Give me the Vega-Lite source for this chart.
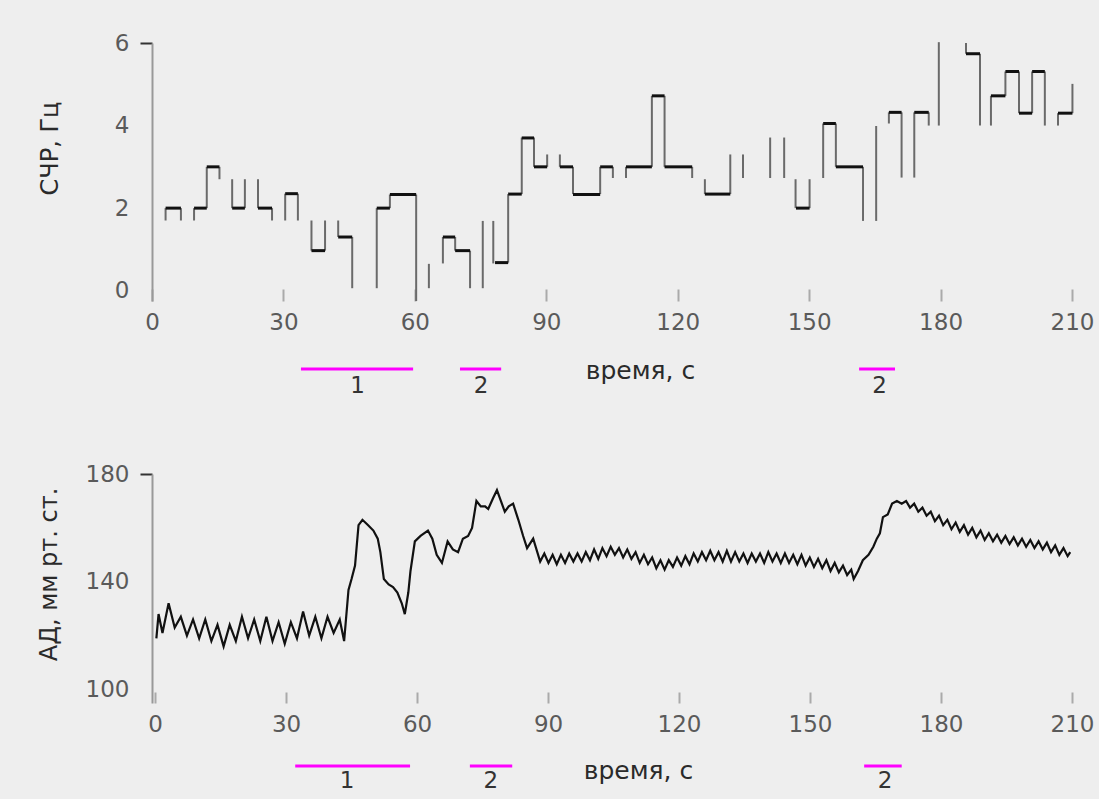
{
  "$schema": "https://vega.github.io/schema/vega-lite/v6.json",
  "background": "#eeeeee",
  "padding": {"left": 37, "top": 32, "right": 5, "bottom": 5},
  "spacing": 65,
  "config": {
    "view": {"stroke": null},
    "font": "DejaVu Sans",
    "axis": {
      "grid": false,
      "labelFont": "DejaVu Sans",
      "titleFont": "DejaVu Sans",
      "labelFontSize": 23,
      "labelColor": "#5a5a5a",
      "titleFontSize": 24,
      "titleFontWeight": "normal",
      "titleColor": "#2a2a2a"
    }
  },
  "datasets": {
    "hr": [
      {"kind": "h", "t": 3.1, "t2": 6.6, "v": 2.0, "v2": 2.0},
      {"kind": "h", "t": 9.6, "t2": 12.5, "v": 2.0, "v2": 2.0},
      {"kind": "h", "t": 12.5, "t2": 15.4, "v": 3.0, "v2": 3.0},
      {"kind": "h", "t": 18.3, "t2": 21.2, "v": 2.0, "v2": 2.0},
      {"kind": "h", "t": 24.2, "t2": 27.4, "v": 2.0, "v2": 2.0},
      {"kind": "h", "t": 30.4, "t2": 33.3, "v": 2.35, "v2": 2.35},
      {"kind": "h", "t": 36.4, "t2": 39.5, "v": 0.97, "v2": 0.97},
      {"kind": "h", "t": 42.5, "t2": 45.7, "v": 1.3, "v2": 1.3},
      {"kind": "h", "t": 51.3, "t2": 54.3, "v": 2.0, "v2": 2.0},
      {"kind": "h", "t": 54.3, "t2": 60.3, "v": 2.33, "v2": 2.33},
      {"kind": "h", "t": 66.4, "t2": 69.2, "v": 1.3, "v2": 1.3},
      {"kind": "h", "t": 69.2, "t2": 72.6, "v": 0.97, "v2": 0.97},
      {"kind": "h", "t": 78.3, "t2": 81.3, "v": 0.68, "v2": 0.68},
      {"kind": "h", "t": 81.3, "t2": 84.4, "v": 2.34, "v2": 2.34},
      {"kind": "h", "t": 84.4, "t2": 87.2, "v": 3.7, "v2": 3.7},
      {"kind": "h", "t": 87.2, "t2": 90.2, "v": 3.0, "v2": 3.0},
      {"kind": "h", "t": 93.1, "t2": 96.1, "v": 3.0, "v2": 3.0},
      {"kind": "h", "t": 96.1, "t2": 102.3, "v": 2.33, "v2": 2.33},
      {"kind": "h", "t": 102.3, "t2": 105.2, "v": 3.0, "v2": 3.0},
      {"kind": "h", "t": 108.2, "t2": 114.1, "v": 3.0, "v2": 3.0},
      {"kind": "h", "t": 114.1, "t2": 117.0, "v": 4.72, "v2": 4.72},
      {"kind": "h", "t": 117.0, "t2": 123.3, "v": 3.0, "v2": 3.0},
      {"kind": "h", "t": 126.2, "t2": 132.0, "v": 2.34, "v2": 2.34},
      {"kind": "h", "t": 147.0, "t2": 150.1, "v": 2.0, "v2": 2.0},
      {"kind": "h", "t": 153.2, "t2": 156.1, "v": 4.05, "v2": 4.05},
      {"kind": "h", "t": 156.1, "t2": 162.3, "v": 3.0, "v2": 3.0},
      {"kind": "h", "t": 168.2, "t2": 171.1, "v": 4.32, "v2": 4.32},
      {"kind": "h", "t": 174.0, "t2": 177.3, "v": 4.32, "v2": 4.32},
      {"kind": "h", "t": 185.8, "t2": 189.0, "v": 5.74, "v2": 5.74},
      {"kind": "h", "t": 191.5, "t2": 194.8, "v": 4.72, "v2": 4.72},
      {"kind": "h", "t": 194.8, "t2": 197.9, "v": 5.31, "v2": 5.31},
      {"kind": "h", "t": 197.9, "t2": 200.9, "v": 4.3, "v2": 4.3},
      {"kind": "h", "t": 200.9, "t2": 203.8, "v": 5.31, "v2": 5.31},
      {"kind": "h", "t": 206.8, "t2": 210.1, "v": 4.3, "v2": 4.3},
      {"kind": "v", "t": 3.1, "t2": 3.1, "v": 2.0, "v2": 1.7},
      {"kind": "v", "t": 6.6, "t2": 6.6, "v": 2.0, "v2": 1.7},
      {"kind": "v", "t": 9.6, "t2": 9.6, "v": 2.0, "v2": 1.7},
      {"kind": "v", "t": 12.5, "t2": 12.5, "v": 2.0, "v2": 3.0},
      {"kind": "v", "t": 15.4, "t2": 15.4, "v": 3.0, "v2": 2.7},
      {"kind": "v", "t": 18.3, "t2": 18.3, "v": 2.7, "v2": 2.0},
      {"kind": "v", "t": 21.2, "t2": 21.2, "v": 2.0, "v2": 2.7},
      {"kind": "v", "t": 24.2, "t2": 24.2, "v": 2.7, "v2": 2.0},
      {"kind": "v", "t": 27.4, "t2": 27.4, "v": 2.0, "v2": 1.7},
      {"kind": "v", "t": 30.4, "t2": 30.4, "v": 1.7, "v2": 2.35},
      {"kind": "v", "t": 33.3, "t2": 33.3, "v": 2.35, "v2": 1.7},
      {"kind": "v", "t": 36.4, "t2": 36.4, "v": 1.7, "v2": 0.97},
      {"kind": "v", "t": 39.5, "t2": 39.5, "v": 0.97, "v2": 1.7},
      {"kind": "v", "t": 42.5, "t2": 42.5, "v": 1.7, "v2": 1.3},
      {"kind": "v", "t": 45.7, "t2": 45.7, "v": 1.3, "v2": 0.06},
      {"kind": "v", "t": 51.3, "t2": 51.3, "v": 0.06, "v2": 2.0},
      {"kind": "v", "t": 54.3, "t2": 54.3, "v": 2.0, "v2": 2.33},
      {"kind": "v", "t": 60.3, "t2": 60.3, "v": 2.33, "v2": -0.25},
      {"kind": "v", "t": 63.2, "t2": 63.2, "v": 0.65, "v2": 0.06},
      {"kind": "v", "t": 66.4, "t2": 66.4, "v": 1.3, "v2": 0.66},
      {"kind": "v", "t": 69.2, "t2": 69.2, "v": 1.3, "v2": 0.97},
      {"kind": "v", "t": 72.6, "t2": 72.6, "v": 0.97, "v2": 0.06},
      {"kind": "v", "t": 75.5, "t2": 75.5, "v": 1.69, "v2": 0.06},
      {"kind": "v", "t": 77.9, "t2": 77.9, "v": 1.69, "v2": 0.66},
      {"kind": "v", "t": 81.3, "t2": 81.3, "v": 0.68, "v2": 2.34},
      {"kind": "v", "t": 84.4, "t2": 84.4, "v": 2.34, "v2": 3.71},
      {"kind": "v", "t": 87.2, "t2": 87.2, "v": 3.71, "v2": 3.0},
      {"kind": "v", "t": 90.2, "t2": 90.2, "v": 3.0, "v2": 3.3},
      {"kind": "v", "t": 93.1, "t2": 93.1, "v": 3.3, "v2": 3.0},
      {"kind": "v", "t": 96.1, "t2": 96.1, "v": 3.0, "v2": 2.34},
      {"kind": "v", "t": 102.3, "t2": 102.3, "v": 2.34, "v2": 3.0},
      {"kind": "v", "t": 105.2, "t2": 105.2, "v": 3.0, "v2": 2.73},
      {"kind": "v", "t": 108.2, "t2": 108.2, "v": 2.73, "v2": 3.0},
      {"kind": "v", "t": 114.1, "t2": 114.1, "v": 3.0, "v2": 4.72},
      {"kind": "v", "t": 117.0, "t2": 117.0, "v": 4.72, "v2": 3.0},
      {"kind": "v", "t": 123.3, "t2": 123.3, "v": 3.0, "v2": 2.73},
      {"kind": "v", "t": 126.2, "t2": 126.2, "v": 2.7, "v2": 2.34},
      {"kind": "v", "t": 132.0, "t2": 132.0, "v": 2.34, "v2": 3.3},
      {"kind": "v", "t": 134.9, "t2": 134.9, "v": 3.3, "v2": 2.73},
      {"kind": "v", "t": 141.1, "t2": 141.1, "v": 3.71, "v2": 2.73},
      {"kind": "v", "t": 144.3, "t2": 144.3, "v": 3.71, "v2": 2.73},
      {"kind": "v", "t": 146.9, "t2": 146.9, "v": 2.7, "v2": 2.0},
      {"kind": "v", "t": 150.1, "t2": 150.1, "v": 2.0, "v2": 2.7},
      {"kind": "v", "t": 153.2, "t2": 153.2, "v": 2.73, "v2": 4.05},
      {"kind": "v", "t": 156.1, "t2": 156.1, "v": 4.05, "v2": 3.0},
      {"kind": "v", "t": 162.3, "t2": 162.3, "v": 3.0, "v2": 1.69},
      {"kind": "v", "t": 165.3, "t2": 165.3, "v": 1.69, "v2": 3.99},
      {"kind": "v", "t": 168.2, "t2": 168.2, "v": 4.32, "v2": 4.05},
      {"kind": "v", "t": 171.1, "t2": 171.1, "v": 4.32, "v2": 2.74},
      {"kind": "v", "t": 174.0, "t2": 174.0, "v": 2.74, "v2": 4.32},
      {"kind": "v", "t": 177.3, "t2": 177.3, "v": 4.32, "v2": 4.0},
      {"kind": "v", "t": 179.6, "t2": 179.6, "v": 6.02, "v2": 4.0},
      {"kind": "v", "t": 185.8, "t2": 185.8, "v": 6.0, "v2": 5.74},
      {"kind": "v", "t": 189.0, "t2": 189.0, "v": 5.74, "v2": 4.0},
      {"kind": "v", "t": 191.5, "t2": 191.5, "v": 4.0, "v2": 4.72},
      {"kind": "v", "t": 194.8, "t2": 194.8, "v": 4.72, "v2": 5.31},
      {"kind": "v", "t": 197.9, "t2": 197.9, "v": 5.31, "v2": 4.3},
      {"kind": "v", "t": 200.9, "t2": 200.9, "v": 4.3, "v2": 5.31},
      {"kind": "v", "t": 203.8, "t2": 203.8, "v": 5.31, "v2": 4.0},
      {"kind": "v", "t": 206.8, "t2": 206.8, "v": 4.0, "v2": 4.3},
      {"kind": "v", "t": 210.1, "t2": 210.1, "v": 4.3, "v2": 5.01}
    ],
    "phaseTop": [
      {"start": 34.0, "end": 59.6, "mid": 46.9, "label": "1"},
      {"start": 70.3, "end": 79.7, "mid": 75.1, "label": "2"},
      {"start": 161.4, "end": 169.6, "mid": 166.1, "label": "2"}
    ],
    "phaseBottom": [
      {"start": 32.1, "end": 58.4, "mid": 44.0, "label": "1"},
      {"start": 72.1, "end": 81.8, "mid": 76.9, "label": "2"},
      {"start": 162.4, "end": 171.0, "mid": 167.2, "label": "2"}
    ],
    "bp": [
      {"t": 0.3, "v": 119}, {"t": 0.8, "v": 128}, {"t": 1.7, "v": 121}, {"t": 3.1, "v": 132},
      {"t": 4.5, "v": 123}, {"t": 5.9, "v": 127}, {"t": 7.3, "v": 120}, {"t": 8.7, "v": 126},
      {"t": 10.1, "v": 119}, {"t": 11.5, "v": 126}, {"t": 12.9, "v": 118}, {"t": 14.3, "v": 124},
      {"t": 15.7, "v": 116}, {"t": 17.1, "v": 124}, {"t": 18.5, "v": 118}, {"t": 19.9, "v": 127},
      {"t": 21.3, "v": 119}, {"t": 22.7, "v": 126}, {"t": 24.1, "v": 118}, {"t": 25.5, "v": 127},
      {"t": 26.9, "v": 118}, {"t": 28.3, "v": 125}, {"t": 29.7, "v": 117}, {"t": 31.1, "v": 125},
      {"t": 32.5, "v": 119}, {"t": 33.9, "v": 129}, {"t": 35.3, "v": 120}, {"t": 36.7, "v": 127},
      {"t": 38.1, "v": 119}, {"t": 39.5, "v": 127}, {"t": 40.9, "v": 121}, {"t": 42.3, "v": 126},
      {"t": 43.3, "v": 118}, {"t": 44.3, "v": 137}, {"t": 45.0, "v": 141}, {"t": 45.8, "v": 146},
      {"t": 46.6, "v": 161}, {"t": 47.5, "v": 163}, {"t": 48.8, "v": 161}, {"t": 50.0, "v": 159},
      {"t": 51.0, "v": 156}, {"t": 51.6, "v": 151}, {"t": 52.4, "v": 141}, {"t": 53.5, "v": 139},
      {"t": 54.5, "v": 138}, {"t": 55.5, "v": 136}, {"t": 56.5, "v": 132}, {"t": 57.2, "v": 128},
      {"t": 58.0, "v": 136}, {"t": 58.5, "v": 144}, {"t": 59.5, "v": 155}, {"t": 60.8, "v": 157},
      {"t": 62.5, "v": 159}, {"t": 63.5, "v": 156}, {"t": 64.5, "v": 150}, {"t": 65.7, "v": 147},
      {"t": 67.0, "v": 155}, {"t": 68.2, "v": 152}, {"t": 69.4, "v": 151}, {"t": 70.5, "v": 156},
      {"t": 71.7, "v": 157}, {"t": 72.6, "v": 160}, {"t": 73.6, "v": 170}, {"t": 74.6, "v": 168},
      {"t": 75.6, "v": 168}, {"t": 76.3, "v": 167}, {"t": 77.4, "v": 171}, {"t": 78.3, "v": 174},
      {"t": 79.2, "v": 170}, {"t": 80.1, "v": 166}, {"t": 81.0, "v": 168}, {"t": 82.0, "v": 169},
      {"t": 83.2, "v": 163}, {"t": 84.3, "v": 157}, {"t": 85.2, "v": 152.5}, {"t": 86.6, "v": 156},
      {"t": 88.2, "v": 147.5}, {"t": 89.15, "v": 150.5}, {"t": 90.1, "v": 147}, {"t": 91.05, "v": 150},
      {"t": 92.0, "v": 146.5}, {"t": 92.95, "v": 150}, {"t": 93.9, "v": 147}, {"t": 94.85, "v": 150.5},
      {"t": 95.8, "v": 147.5}, {"t": 96.75, "v": 150.5}, {"t": 97.7, "v": 147.5}, {"t": 98.65, "v": 151},
      {"t": 99.6, "v": 148}, {"t": 100.55, "v": 152}, {"t": 101.5, "v": 148.5}, {"t": 102.45, "v": 152.5},
      {"t": 103.4, "v": 149.5}, {"t": 104.35, "v": 153}, {"t": 105.3, "v": 150}, {"t": 106.25, "v": 152.5},
      {"t": 107.2, "v": 149}, {"t": 108.15, "v": 152}, {"t": 109.1, "v": 148.5}, {"t": 110.05, "v": 151},
      {"t": 111.0, "v": 147}, {"t": 111.95, "v": 150}, {"t": 112.9, "v": 146.5}, {"t": 113.85, "v": 149},
      {"t": 114.8, "v": 145}, {"t": 115.75, "v": 148}, {"t": 116.7, "v": 144.5}, {"t": 117.65, "v": 148},
      {"t": 118.6, "v": 145.5}, {"t": 119.55, "v": 149}, {"t": 120.5, "v": 146}, {"t": 121.45, "v": 149.5},
      {"t": 122.4, "v": 146.5}, {"t": 123.35, "v": 150.5}, {"t": 124.3, "v": 147.5}, {"t": 125.25, "v": 151},
      {"t": 126.2, "v": 148}, {"t": 127.15, "v": 151.5}, {"t": 128.1, "v": 148}, {"t": 129.05, "v": 151},
      {"t": 130.0, "v": 147.5}, {"t": 130.95, "v": 151.5}, {"t": 131.9, "v": 147.5}, {"t": 132.85, "v": 151},
      {"t": 133.8, "v": 147.5}, {"t": 134.75, "v": 150.5}, {"t": 135.7, "v": 147}, {"t": 136.65, "v": 150.5},
      {"t": 137.6, "v": 147.5}, {"t": 138.55, "v": 150.5}, {"t": 139.5, "v": 147}, {"t": 140.45, "v": 151},
      {"t": 141.4, "v": 147.5}, {"t": 142.35, "v": 150.5}, {"t": 143.3, "v": 147}, {"t": 144.25, "v": 150.5},
      {"t": 145.2, "v": 147}, {"t": 146.15, "v": 150}, {"t": 147.1, "v": 146.5}, {"t": 148.05, "v": 150},
      {"t": 149.0, "v": 146}, {"t": 149.95, "v": 149}, {"t": 150.9, "v": 145.5}, {"t": 151.85, "v": 148.5},
      {"t": 152.8, "v": 145}, {"t": 153.75, "v": 148}, {"t": 154.7, "v": 144}, {"t": 155.65, "v": 147},
      {"t": 156.6, "v": 143.5}, {"t": 157.55, "v": 146}, {"t": 158.5, "v": 142.5}, {"t": 159.45, "v": 144.5},
      {"t": 160.0, "v": 141}, {"t": 161.0, "v": 144}, {"t": 162.1, "v": 148}, {"t": 163.4, "v": 150},
      {"t": 164.5, "v": 153}, {"t": 165.3, "v": 156}, {"t": 166.0, "v": 158}, {"t": 166.7, "v": 164},
      {"t": 167.8, "v": 165}, {"t": 168.8, "v": 169}, {"t": 169.9, "v": 170}, {"t": 171.0, "v": 169},
      {"t": 172.0, "v": 170}, {"t": 172.9, "v": 167.5}, {"t": 173.85, "v": 169}, {"t": 174.8, "v": 166},
      {"t": 175.75, "v": 167.5}, {"t": 176.7, "v": 164.5}, {"t": 177.65, "v": 166}, {"t": 178.6, "v": 162.5},
      {"t": 179.55, "v": 164.5}, {"t": 180.5, "v": 161}, {"t": 181.45, "v": 163}, {"t": 182.4, "v": 159.5},
      {"t": 183.35, "v": 162}, {"t": 184.3, "v": 158.5}, {"t": 185.25, "v": 161}, {"t": 186.2, "v": 157.5},
      {"t": 187.15, "v": 160}, {"t": 188.1, "v": 156.5}, {"t": 189.05, "v": 159}, {"t": 190.0, "v": 155.5},
      {"t": 190.95, "v": 158}, {"t": 191.9, "v": 155}, {"t": 192.85, "v": 157.5}, {"t": 193.8, "v": 154.5},
      {"t": 194.75, "v": 157}, {"t": 195.7, "v": 154}, {"t": 196.65, "v": 156.5}, {"t": 197.6, "v": 153.5},
      {"t": 198.55, "v": 156}, {"t": 199.5, "v": 153}, {"t": 200.45, "v": 155.5}, {"t": 201.4, "v": 152.5},
      {"t": 202.35, "v": 155}, {"t": 203.3, "v": 152}, {"t": 204.25, "v": 154.5}, {"t": 205.2, "v": 151},
      {"t": 206.15, "v": 153.5}, {"t": 207.1, "v": 150}, {"t": 208.05, "v": 152.5}, {"t": 209.0, "v": 149.5},
      {"t": 209.6, "v": 151}
    ]
  },
  "vconcat": [
    {
      "width": 920,
      "height": 258,
      "layer": [
        {
          "data": {"name": "hr"},
          "transform": [{"filter": "datum.kind === 'v'"}],
          "mark": {"type": "rule", "color": "#6a6a6a", "strokeWidth": 2},
          "encoding": {
            "x": {
              "field": "t", "type": "quantitative",
              "scale": {"domain": [0, 210], "nice": false, "zero": false},
              "axis": {
                "values": [0, 30, 60, 90, 120, 150, 180, 210],
                "title": "время, с",
                "domain": false,
                "tickSize": -12,
                "tickColor": "#aaaaaa",
                "tickWidth": 2,
                "labelPadding": 22,
                "titlePadding": 24,
                "titleX": 488,
                "titleFontSize": 25,
                "labelFlush": false
              }
            },
            "x2": {"field": "t2"},
            "y": {
              "field": "v", "type": "quantitative",
              "scale": {"domain": [-0.25, 6], "nice": false, "zero": false},
              "axis": {
                "values": [0, 2, 4, 6],
                "title": "СЧР, Гц",
                "domainColor": "#999999",
                "domainWidth": 2,
                "tickSize": 12,
                "tickColor": "#333333",
                "tickWidth": 2,
                "tickOpacity": {"condition": {"test": "datum.value === 6", "value": 1}, "value": 0},
                "labelPadding": 11,
                "titlePadding": 52,
                "titleY": 105
              }
            },
            "y2": {"field": "v2"}
          }
        },
        {
          "data": {"name": "hr"},
          "transform": [{"filter": "datum.kind === 'h'"}],
          "mark": {"type": "rule", "color": "#111111", "strokeWidth": 3},
          "encoding": {
            "x": {"field": "t", "type": "quantitative"},
            "x2": {"field": "t2"},
            "y": {"field": "v", "type": "quantitative"},
            "y2": {"field": "v2"}
          }
        },
        {
          "data": {"name": "phaseTop"},
          "mark": {"type": "rule", "color": "#ff00ff", "strokeWidth": 3},
          "encoding": {
            "x": {"field": "start", "type": "quantitative"},
            "x2": {"field": "end"},
            "y": {"datum": -1.9, "type": "quantitative"}
          }
        },
        {
          "data": {"name": "phaseTop"},
          "mark": {"type": "text", "fontSize": 23, "color": "#333333", "baseline": "middle", "font": "DejaVu Sans"},
          "encoding": {
            "x": {"field": "mid", "type": "quantitative"},
            "y": {"datum": -2.3, "type": "quantitative"},
            "text": {"field": "label"}
          }
        }
      ]
    },
    {
      "width": 920,
      "height": 229,
      "layer": [
        {
          "data": {"name": "bp"},
          "mark": {"type": "line", "color": "#111111", "strokeWidth": 2.2},
          "encoding": {
            "x": {
              "field": "t", "type": "quantitative",
              "scale": {"domain": [-0.7, 210], "nice": false, "zero": false},
              "axis": {
                "values": [0, 30, 60, 90, 120, 150, 180, 210],
                "title": "время, с",
                "domain": false,
                "tickSize": -11,
                "tickColor": "#aaaaaa",
                "tickWidth": 2,
                "labelPadding": 21,
                "titlePadding": 22,
                "titleX": 486,
                "titleFontSize": 25,
                "labelFlush": false
              }
            },
            "y": {
              "field": "v", "type": "quantitative",
              "scale": {"domain": [95, 180], "nice": false, "zero": false},
              "axis": {
                "values": [100, 140, 180],
                "title": "АД, мм рт. ст.",
                "domainColor": "#999999",
                "domainWidth": 2,
                "tickSize": 12,
                "tickColor": "#333333",
                "tickWidth": 2,
                "tickOpacity": {"condition": {"test": "datum.value === 180", "value": 1}, "value": 0},
                "labelPadding": 11,
                "titlePadding": 24,
                "titleY": 100
              }
            }
          }
        },
        {
          "data": {"name": "phaseBottom"},
          "mark": {"type": "rule", "color": "#ff00ff", "strokeWidth": 3},
          "encoding": {
            "x": {"field": "start", "type": "quantitative"},
            "x2": {"field": "end"},
            "y": {"datum": 71.6, "type": "quantitative"}
          }
        },
        {
          "data": {"name": "phaseBottom"},
          "mark": {"type": "text", "fontSize": 23, "color": "#333333", "baseline": "middle", "font": "DejaVu Sans"},
          "encoding": {
            "x": {"field": "mid", "type": "quantitative"},
            "y": {"datum": 65.9, "type": "quantitative"},
            "text": {"field": "label"}
          }
        }
      ]
    }
  ]
}
